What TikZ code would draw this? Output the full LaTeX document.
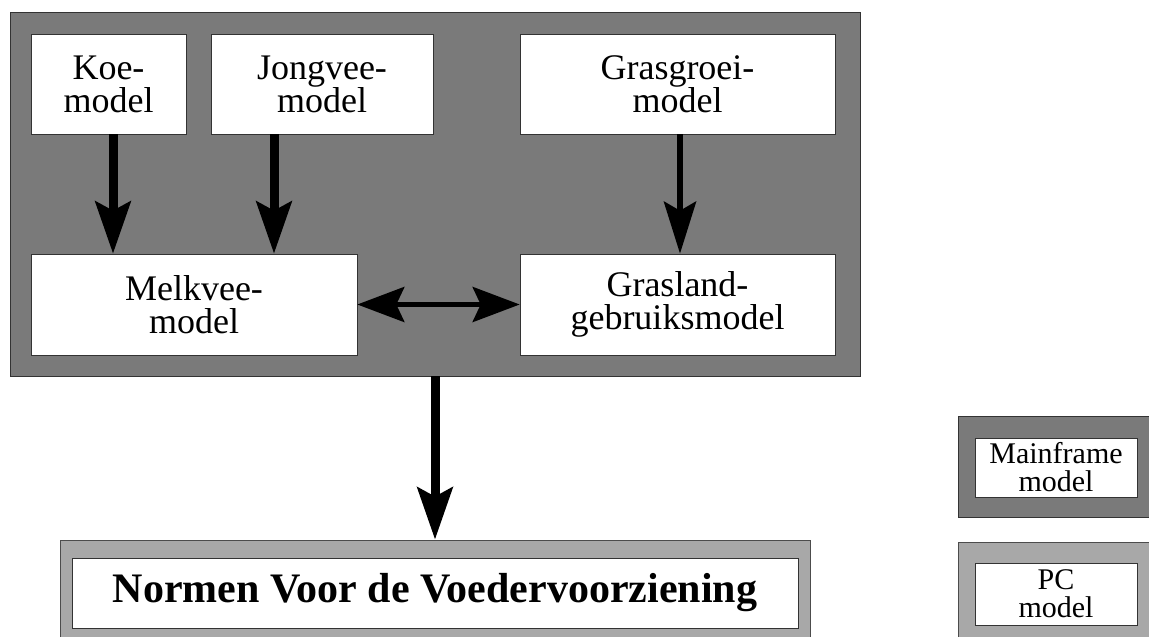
\documentclass[tikz,border=0pt]{standalone}
\usepackage{fontspec}
\setmainfont{Liberation Serif}
\usetikzlibrary{arrows.meta}
\tikzstyle{mframe}=[draw=black!80,fill=black!52,line width=0.8pt,inner sep=0pt]
\tikzstyle{pcframe}=[draw=black!70,fill=black!34,line width=0.8pt,inner sep=0pt]
\tikzstyle{model}=[draw=black!80,fill=white,line width=0.6pt,align=center,inner sep=0pt,font=\fontsize{36}{33}\selectfont]
\tikzstyle{legend}=[model,font=\fontsize{30}{28}\selectfont]
\tikzstyle{dik}=[line width=9pt,-{Stealth[length=52pt,width=35pt,inset=9pt]}]
\tikzstyle{dun}=[line width=6pt,-{Stealth[length=52pt,width=32pt,inset=9pt]}]

\begin{document}
\begin{tikzpicture}[x=1pt,y=-1pt]
\useasboundingbox (0,0) rectangle (1149,637);

\node[mframe, minimum width=850pt, minimum height=364pt] (mainframe) at (435, 194) {};

\node[model, minimum width=155pt, minimum height=100pt] (koe)       at (108.5, 84)  {Koe-\\model};
\node[model, minimum width=222pt, minimum height=100pt] (jongvee)   at (322, 84)    {Jongvee-\\model};
\node[model, minimum width=315pt, minimum height=100pt] (grasgroei) at (677.5, 84)  {Grasgroei-\\model};
\node[model, minimum width=326pt, minimum height=101pt] (melkvee)   at (194, 304.5) {Melkvee-\\model};
\node[model, minimum width=315pt, minimum height=101pt] (grasland)  at (677.5, 304.5) {Grasland-\\gebruiksmodel};

\node[pcframe, minimum width=750pt, minimum height=105pt] (normenkader) at (435, 592.5) {};
\node[model, minimum width=726pt, minimum height=70pt, font=\fontsize{42}{46}\selectfont\bfseries] (normen) at (435, 593) {Normen Voor de Voedervoorziening};

\node[mframe, minimum width=194pt, minimum height=101pt] (legmf) at (1055, 466.5) {};
\node[legend, minimum width=162pt, minimum height=59pt] (legmfin) at (1056, 467.5) {Mainframe\\model};
\node[pcframe, minimum width=194pt, minimum height=106pt] (legpc) at (1055, 595) {};
\node[legend, minimum width=162pt, minimum height=62pt] (legpcin) at (1056, 594) {PC\\model};

\draw[dik] ([xshift=4.5pt]koe.south) -- ([xshift=4.5pt]koe.south |- melkvee.north);
\draw[dik] ([xshift=-48pt]jongvee.south) -- ([xshift=-48pt]jongvee.south |- melkvee.north);
\draw[dun] ([xshift=2.5pt]grasgroei.south) -- ([xshift=2.5pt]grasgroei.south |- grasland.north);
\draw[line width=5pt, {Stealth[length=47pt,width=35pt,inset=8pt]}-{Stealth[length=47pt,width=35pt,inset=8pt]}] (melkvee.east) -- (grasland.west);
\draw[dik] (mainframe.south) -- (normenkader.north);

\end{tikzpicture}
\end{document}
